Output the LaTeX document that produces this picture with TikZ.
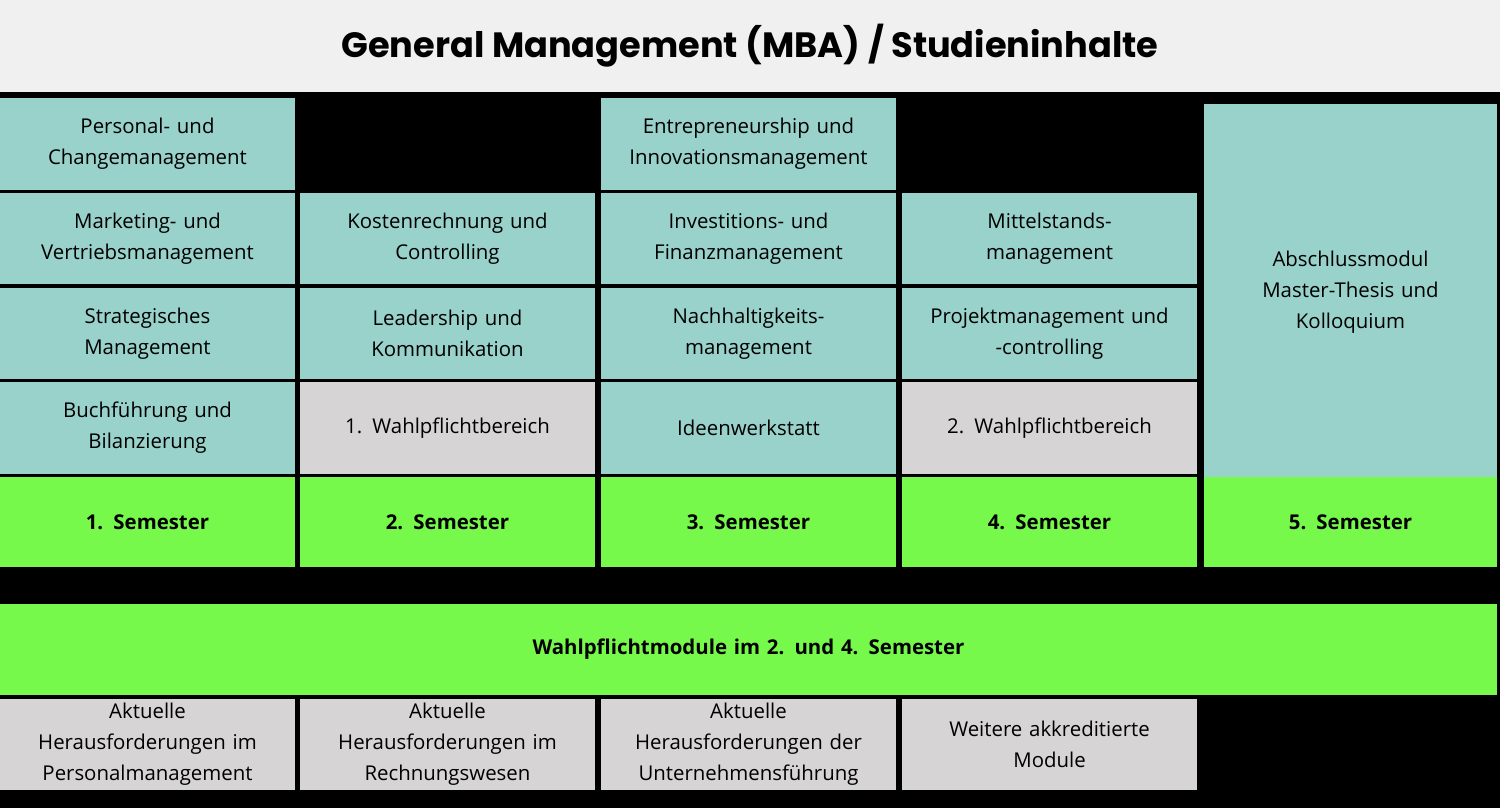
\documentclass[tikz,border=0pt]{standalone}
\usepackage{fontspec}
\setmainfont{Open Sans}
\newfontfamily\titlefont{Poppins}
\usetikzlibrary{positioning}
\definecolor{modteal}{HTML}{99D1CB}
\definecolor{modgray}{HTML}{D6D4D4}
\definecolor{semgreen}{HTML}{77F94B}
\definecolor{titlebg}{HTML}{F0F0F0}
\tikzset{
  cell/.style={inner sep=0pt, minimum width=2.95cm, minimum height=0.915cm,
    text width=2.85cm, align=center, font=\fontsize{5.8pt}{8.8pt}\selectfont},
  tealcell/.style={cell, fill=modteal},
  graycell/.style={cell, fill=modgray},
  semcell/.style={cell, fill=semgreen, minimum height=0.9cm, font=\fontsize{5.8pt}{8.8pt}\selectfont\bfseries}
}
\begin{document}
\begin{tikzpicture}[x=0.01cm, y=-0.01cm]
    \useasboundingbox (0,0) rectangle (1500,808);
    % Background and title
    \fill[black] (0,0) rectangle (1500,808);
    \fill[titlebg] (0,0) rectangle (1500,92);
    \node[font=\titlefont\fontsize{10pt}{12pt}\selectfont\bfseries] (title) at (750,46) {General Management (MBA) / Studieninhalte};

    % 1. Semester
    \node[tealcell] (a1) at (147.5,144) {Personal- und\\Changemanagement};
    \node[tealcell] (a2) at (147.5,238.5) {Marketing- und\\Vertriebsmanagement};
    \node[tealcell] (a3) at (147.5,333.5) {Strategisches\\Management};
    \node[tealcell] (a4) at (147.5,428) {Buchführung und\\Bilanzierung};
    \node[semcell] (s1) at (147.5,522) {1. Semester};

    % 2. Semester
    \node[tealcell] (b2) at (447.5,238.5) {Kostenrechnung und\\Controlling};
    \node[tealcell] (b3) at (447.5,333.5) {Leadership und\\Kommunikation};
    \node[graycell] (b4) at (447.5,428) {1. Wahlpflichtbereich};
    \node[semcell] (s2) at (447.5,522) {2. Semester};

    % 3. Semester
    \node[tealcell] (c1) at (748.5,144) {Entrepreneurship und\\Innovationsmanagement};
    \node[tealcell] (c2) at (748.5,238.5) {Investitions- und\\Finanzmanagement};
    \node[tealcell] (c3) at (748.5,333.5) {Nachhaltigkeits-\\management};
    \node[tealcell] (c4) at (748.5,428) {Ideenwerkstatt};
    \node[semcell] (s3) at (748.5,522) {3. Semester};

    % 4. Semester
    \node[tealcell] (d2) at (1049.5,238.5) {Mittelstands-\\management};
    \node[tealcell] (d3) at (1049.5,333.5) {Projektmanagement und\\-controlling};
    \node[graycell] (d4) at (1049.5,428) {2. Wahlpflichtbereich};
    \node[semcell] (s4) at (1049.5,522) {4. Semester};

    % 5. Semester
    \node[tealcell, minimum width=2.93cm, minimum height=3.76cm, yshift=-0.06cm] (e1) at (1350.5,286) {Abschlussmodul\\Master-Thesis und\\Kolloquium};
    \node[semcell, minimum width=2.93cm] (s5) at (1350.5,522) {5. Semester};

    % Wahlpflichtmodule
    \node[semcell, minimum width=14.97cm, minimum height=0.91cm, text width=14cm] (wp) at (748.5,649.5) {Wahlpflichtmodule im 2. und 4. Semester};
    \node[graycell] (w1) at (147.5,744.5) {Aktuelle\\Herausforderungen im\\Personalmanagement};
    \node[graycell] (w2) at (447.5,744.5) {Aktuelle\\Herausforderungen im\\Rechnungswesen};
    \node[graycell] (w3) at (748.5,744.5) {Aktuelle\\Herausforderungen der\\Unternehmensführung};
    \node[graycell] (w4) at (1049.5,744.5) {Weitere akkreditierte\\Module};
\end{tikzpicture}
\end{document}
